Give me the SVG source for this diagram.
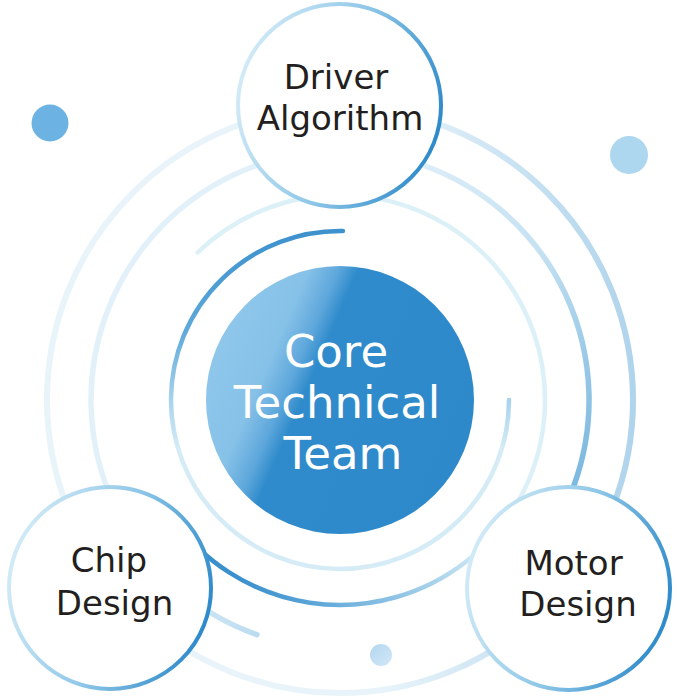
<svg xmlns="http://www.w3.org/2000/svg" width="677" height="700" viewBox="0 0 677 700">
  <defs>
    <!-- fills and strokes -->
    <linearGradient id="coreFill" gradientUnits="userSpaceOnUse" x1="217" y1="347" x2="463" y2="453">
      <stop offset="0" stop-color="#8fc7eb"/>
      <stop offset="0.2" stop-color="#86c1e8"/>
      <stop offset="0.3" stop-color="#5fa8dc"/>
      <stop offset="0.37" stop-color="#2f8bcb"/>
      <stop offset="1" stop-color="#2d89c9"/>
    </linearGradient>
    <linearGradient id="nodeStroke" x1="0" y1="0.35" x2="1" y2="0.65">
      <stop offset="0" stop-color="#d3ebf7"/>
      <stop offset="0.5" stop-color="#8fc7e8"/>
      <stop offset="1" stop-color="#2b88c9"/>
    </linearGradient>
    <linearGradient id="ringE" gradientUnits="userSpaceOnUse" x1="380" y1="0" x2="640" y2="0">
      <stop offset="0" stop-color="#e8f4fa"/>
      <stop offset="1" stop-color="#aed3eb"/>
    </linearGradient>
    <linearGradient id="ringD" gradientUnits="userSpaceOnUse" x1="300" y1="250" x2="590" y2="490">
      <stop offset="0" stop-color="#e2f1f9"/>
      <stop offset="0.5" stop-color="#c4e1f2"/>
      <stop offset="1" stop-color="#76b5de"/>
    </linearGradient>
    <linearGradient id="ringB" gradientUnits="userSpaceOnUse" x1="215" y1="560" x2="340" y2="420">
      <stop offset="0" stop-color="#3a90cd"/>
      <stop offset="0.3" stop-color="#74b4de"/>
      <stop offset="0.9" stop-color="#c6e3f3"/>
      <stop offset="1" stop-color="#dcf0f8"/>
    </linearGradient>
    <linearGradient id="ringA" gradientUnits="userSpaceOnUse" x1="0" y1="232" x2="0" y2="450">
      <stop offset="0" stop-color="#3d91cd"/>
      <stop offset="0.45" stop-color="#5ea9da"/>
      <stop offset="0.77" stop-color="#a7d3ec"/>
      <stop offset="1" stop-color="#d5ecf7"/>
    </linearGradient>
    <linearGradient id="dotSmall" x1="0" y1="0" x2="1" y2="1">
      <stop offset="0" stop-color="#b3d6f0"/>
      <stop offset="1" stop-color="#d2e8f7"/>
    </linearGradient>
    <style>
      .ring { fill: none; stroke-linecap: round; }
      .node { fill: #ffffff; stroke: url(#nodeStroke); stroke-width: 4; }
      .label { font-family: "DejaVu Sans", "Liberation Sans", sans-serif; font-size: 34px; fill: #231f20; text-anchor: middle; }
      .core-label { font-family: "DejaVu Sans", "Liberation Sans", sans-serif; font-size: 45px; fill: #ffffff; text-anchor: middle; }
    </style>
  </defs>

  <rect width="677" height="700" fill="#ffffff"/>

  <!-- decorative dots -->
  <circle cx="50" cy="123" r="18.5" fill="#6cb3e3"/>
  <circle cx="629" cy="155" r="19" fill="#add6ef"/>
  <circle cx="381" cy="655" r="11" fill="url(#dotSmall)"/>

  <!-- orbit rings -->
  <g id="connectors">
    <circle class="ring" cx="340" cy="400" r="293" stroke="url(#ringE)" stroke-width="6"/>
    <path class="ring" d="M256.9,634.7 A249,249 0 1 1 574,485.2" stroke="url(#ringD)" stroke-width="5.5"/>
    <path class="ring" d="M197.6,252.5 A205,205 0 1 1 172.1,517.6" stroke="url(#ringB)" stroke-width="4.5"/>
    <path class="ring" d="M509,400 A169,169 0 1 1 342.9,231" stroke="url(#ringA)" stroke-width="4.5"/>
  </g>

  <g id="core">
    <circle cx="340" cy="400" r="134" fill="url(#coreFill)"/>
    <text class="core-label" x="336" y="367">Core</text>
    <text class="core-label" x="337" y="418">Technical</text>
    <text class="core-label" x="343" y="469">Team</text>
  </g>

  <g id="driver-algorithm">
    <circle class="node" cx="339.5" cy="105.5" r="101.5"/>
    <text class="label" x="336" y="89">Driver</text>
    <text class="label" x="340" y="130">Algorithm</text>
  </g>

  <g id="chip-design">
    <circle class="node" cx="110" cy="588" r="101"/>
    <text class="label" x="109" y="572">Chip</text>
    <text class="label" x="114.5" y="615">Design</text>
  </g>

  <g id="motor-design">
    <circle class="node" cx="568.5" cy="588.5" r="101.5"/>
    <text class="label" x="573.5" y="575">Motor</text>
    <text class="label" x="578" y="616">Design</text>
  </g>
</svg>
